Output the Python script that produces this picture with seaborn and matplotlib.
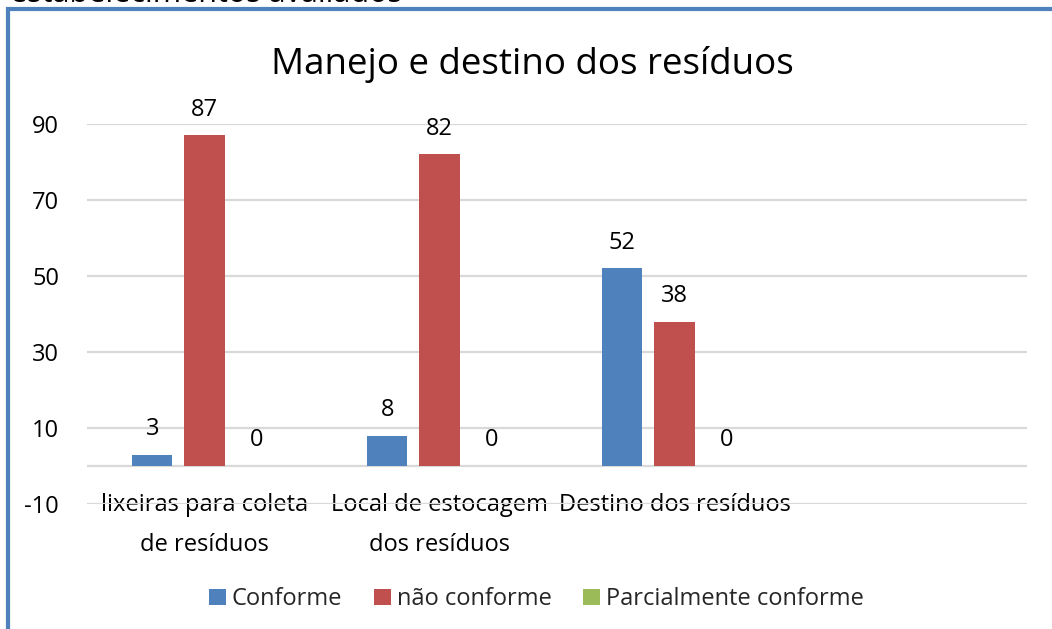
import matplotlib
matplotlib.use("Agg")
import matplotlib.pyplot as plt
import seaborn as sns
import pandas as pd
from matplotlib.patches import Patch, Rectangle

# dados
categorias = ["lixeiras para coleta\nde resíduos", "Local de estocagem\ndos resíduos",
              "Destino dos resíduos", " "]
series = ["Conforme", "não conforme", "Parcialmente conforme"]
conforme = [3, 8, 52]
nao_conforme = [87, 82, 38]
parcial = [0, 0, 0]
yticks = [-10, 10, 30, 50, 70, 90]
cores = {"Conforme": "#4F81BD", "não conforme": "#C0504D", "Parcialmente conforme": "#9BBB59"}

rows = []
for serie, vals in zip(series, [conforme, nao_conforme, parcial]):
    for cat, v in zip(categorias[:3], vals):
        rows.append({"categoria": cat, "serie": serie, "valor": v})
df = pd.DataFrame(rows)

sns.set_theme(style="white")
plt.rcParams['font.family'] = ['Open Sans', 'DejaVu Sans']
plt.rcParams['axes.unicode_minus'] = False

fig = plt.figure(figsize=(10.52, 6.29), dpi=100)
ax = fig.add_axes([0.0827, 0.1987, 0.8935, 0.604])

sns.barplot(data=df, x="categoria", y="valor", hue="serie", order=categorias,
            hue_order=series, palette=cores, width=0.665, gap=0.23,
            legend=False, ax=ax, saturation=1, zorder=3, linewidth=0)

for c in ax.containers:
    ax.bar_label(c, padding=10, fontsize=17, color="black")

ax.set_ylim(-10, 90)
ax.set_xlim(-0.5, 3.5)
ax.set_yticks(yticks)
ax.grid(axis="y", color="#D9D9D9", linewidth=1.6, zorder=0)
ax.axhline(0, color="#D9D9D9", linewidth=1.6, zorder=1)
ax.set_axisbelow(True)
for s in ax.spines.values():
    s.set_visible(False)
ax.tick_params(axis="y", length=0, labelsize=17, pad=20, labelcolor="black")
ax.tick_params(axis="x", length=0, labelsize=17, pad=-8, labelcolor="black")
for lbl in ax.get_xticklabels():
    lbl.set_linespacing(1.9)
ax.set_xlabel("")
ax.set_ylabel("")

fig.text(0.506, 0.897, "Manejo e destino dos resíduos", ha="center", va="center",
         fontsize=26.5, color="black")

handles = [Patch(facecolor=cores[s], edgecolor="none") for s in series]
fig.legend(handles, series, loc="center", bbox_to_anchor=(0.51, 0.047), ncol=3,
           frameon=False, fontsize=17, handlelength=0.7, handleheight=0.7,
           handletextpad=0.25, columnspacing=1.35)

# moldura azul e texto cortado do documento
fig.add_artist(Rectangle((8 / 1052, -0.05), 1.1, 1.05 - 8.5 / 629, transform=fig.transFigure,
                         fill=False, edgecolor="#4F81BD", linewidth=3))
fig.text(10 / 1052, 1 - 2 / 629, "estabelecimentos avaliados", ha="left", va="baseline",
         fontsize=22, color="black")

fig.savefig("out.png", dpi=100)
